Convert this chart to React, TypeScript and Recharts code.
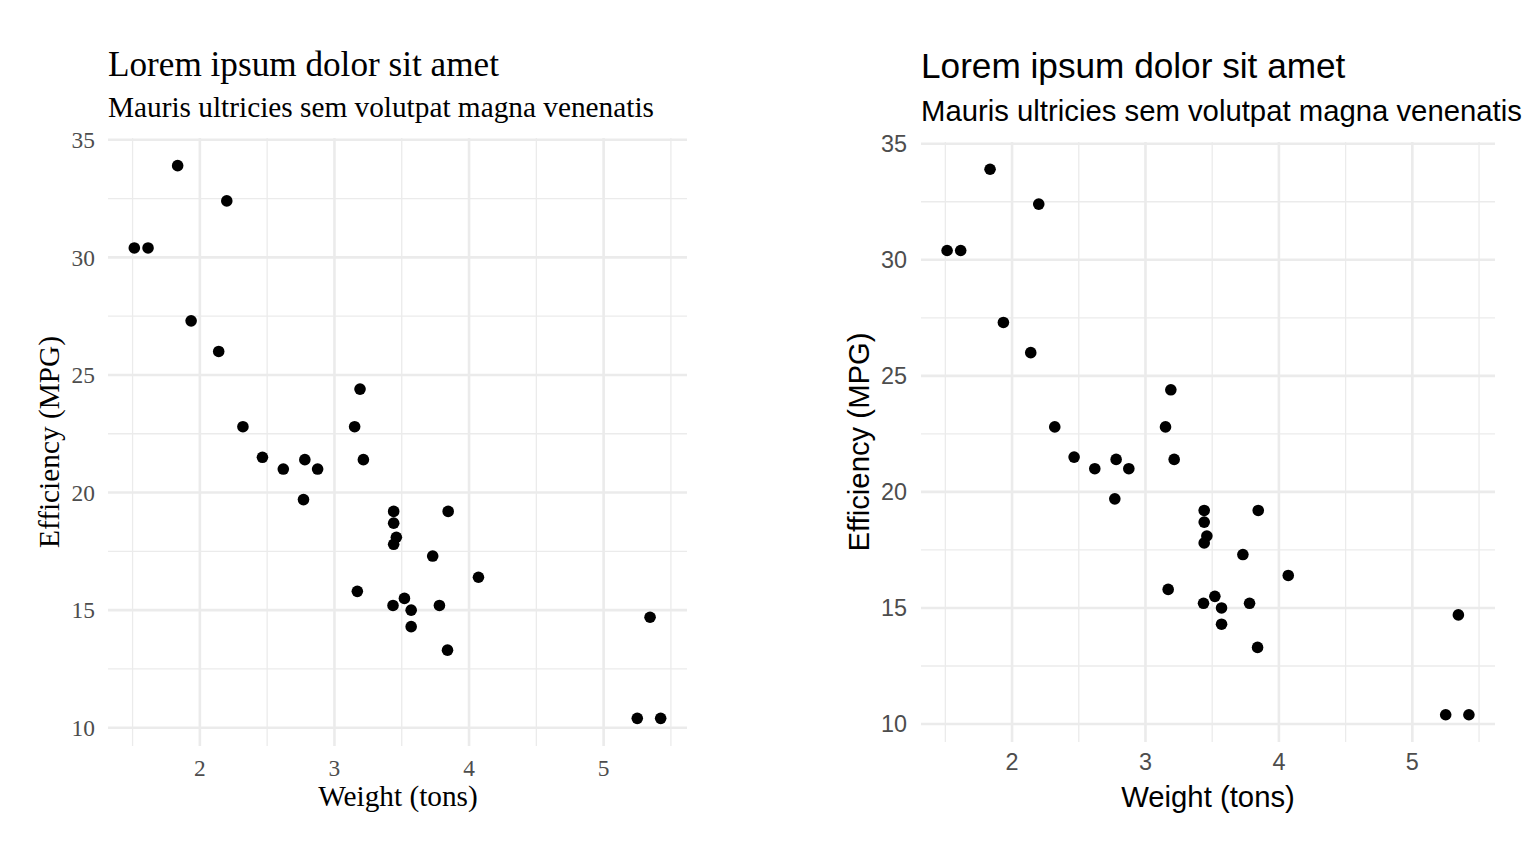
import React from 'react';
import { ScatterChart, Scatter, XAxis, YAxis, ReferenceLine } from 'recharts';

// Car weight (1000 lbs) and fuel efficiency (MPG)
const weights = [2.62, 2.875, 2.32, 3.215, 3.44, 3.46, 3.57, 3.19, 3.15, 3.44, 3.44, 4.07, 3.73, 3.78, 5.25, 5.424, 5.345, 2.2, 1.615, 1.835, 2.465, 3.52, 3.435, 3.84, 3.845, 1.935, 2.14, 1.513, 3.17, 2.77, 3.57, 2.78];
const mpgs = [21.0, 21.0, 22.8, 21.4, 18.7, 18.1, 14.3, 24.4, 22.8, 19.2, 17.8, 16.4, 17.3, 15.2, 10.4, 10.4, 14.7, 32.4, 30.4, 33.9, 21.5, 15.5, 15.2, 13.3, 19.2, 27.3, 26.0, 30.4, 15.8, 19.7, 15.0, 21.4];

const xMajor = [2, 3, 4, 5];
const xMinor = [1.5, 2.5, 3.5, 4.5, 5.5];
const yMajor = [10, 15, 20, 25, 30, 35];
const yMinor = [12.5, 17.5, 22.5, 27.5, 32.5];

const titleText = 'Lorem ipsum dolor sit amet';
const subtitleText = 'Mauris ultricies sem volutpat magna venenatis';
const xLabelText = 'Weight (tons)';
const yLabelText = 'Efficiency (MPG)';

const data = weights.map((w, i) => ({ wt: w, mpg: mpgs[i] }));

const expand = (arr: number[]): [number, number] => {
  const lo = Math.min(...arr);
  const hi = Math.max(...arr);
  const pad = (hi - lo) * 0.05;
  return [lo - pad, hi + pad];
};
const xDomain = expand(weights);
const yDomain = expand(mpgs);

const GRID = '#EBEBEB';

type PanelProps = {
  left: number;
  font: string;
  margin: { top: number; right: number; bottom: number; left: number };
  titleX: number;
  titleY: number;
  subY: number;
  xLabX: number;
  xLabY: number;
  yLabX: number;
  yLabY: number;
  xTickMargin: number;
  yTickMargin: number;
};

const Dot = (props: any) => <circle cx={props.cx} cy={props.cy} r={5.8} fill="#000" />;

function Panel(p: PanelProps) {
  const W = 768;
  const H = 865;
  return (
    <div style={{ position: 'absolute', left: p.left, top: 0, width: W, height: H }}>
      <ScatterChart width={W} height={H} margin={p.margin}>
        {xMinor.map((v) => (
          <ReferenceLine key={'xm' + v} x={v} stroke={GRID} strokeWidth={1.3} />
        ))}
        {yMinor.map((v) => (
          <ReferenceLine key={'ym' + v} y={v} stroke={GRID} strokeWidth={1.3} />
        ))}
        {xMajor.map((v) => (
          <ReferenceLine key={'xM' + v} x={v} stroke={GRID} strokeWidth={2.6} />
        ))}
        {yMajor.map((v) => (
          <ReferenceLine key={'yM' + v} y={v} stroke={GRID} strokeWidth={2.6} />
        ))}
        <XAxis
          type="number"
          dataKey="wt"
          domain={xDomain}
          ticks={xMajor}
          allowDataOverflow
          axisLine={false}
          tickLine={false}
          tickSize={0}
          tickMargin={p.xTickMargin}
          height={40}
          tick={{ fill: '#4D4D4D', fontSize: 23.4, fontFamily: p.font }}
        />
        <YAxis
          type="number"
          dataKey="mpg"
          domain={yDomain}
          ticks={yMajor}
          allowDataOverflow
          axisLine={false}
          tickLine={false}
          tickSize={0}
          tickMargin={p.yTickMargin}
          width={40}
          tick={{ fill: '#4D4D4D', fontSize: 23.4, fontFamily: p.font }}
        />
        <Scatter data={data} shape={Dot} isAnimationActive={false} />
      </ScatterChart>
      <svg
        width={W}
        height={H}
        style={{ position: 'absolute', left: 0, top: 0, pointerEvents: 'none' }}
      >
        <text x={p.titleX} y={p.titleY} fontFamily={p.font} fontSize={35.2} fill="#000">
          {titleText}
        </text>
        <text x={p.titleX} y={p.subY} fontFamily={p.font} fontSize={29.3} fill="#000">
          {subtitleText}
        </text>
        <text x={p.xLabX} y={p.xLabY} fontFamily={p.font} fontSize={29.3} fill="#000" textAnchor="middle">
          {xLabelText}
        </text>
        <text
          x={0}
          y={0}
          transform={`translate(${p.yLabX},${p.yLabY}) rotate(-90)`}
          fontFamily={p.font}
          fontSize={29.3}
          fill="#000"
          textAnchor="middle"
        >
          {yLabelText}
        </text>
      </svg>
    </div>
  );
}

export default function App() {
  return (
    <div style={{ position: 'absolute', left: 0, top: 0, width: 1536, height: 865, background: '#fff' }}>
      <Panel
        left={0}
        font="'Liberation Serif', serif"
        margin={{ top: 138, right: 81, bottom: 79, left: 68 }}
        titleX={108}
        titleY={76}
        subY={117}
        xLabX={398}
        xLabY={806}
        yLabX={59}
        yLabY={442}
        xTickMargin={13}
        yTickMargin={13}
      />
      <Panel
        left={768}
        font="'Liberation Sans', sans-serif"
        margin={{ top: 142, right: 41, bottom: 83, left: 113 }}
        titleX={153}
        titleY={78}
        subY={121}
        xLabX={440}
        xLabY={807}
        yLabX={101}
        yLabY={442}
        xTickMargin={11}
        yTickMargin={14}
      />
    </div>
  );
}
